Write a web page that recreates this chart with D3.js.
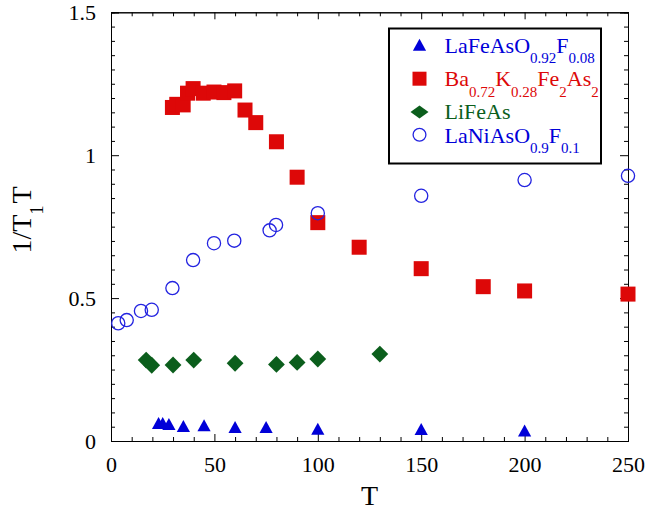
<!DOCTYPE html>
<html>
<head>
<meta charset="utf-8">
<script src="https://cdn.jsdelivr.net/npm/d3@7"></script>
<style>
  html, body { margin: 0; padding: 0; background: #fff; }
  svg { display: block; }
  text { font-family: "Liberation Serif", "Times New Roman", serif; }
</style>
</head>
<body>
<svg id="chart" width="648" height="513"></svg>
<script>
// ---- data ----
const triT = [23, 25, 28, 35, 45, 60, 75, 100, 150, 200];
const triV = [0.062, 0.062, 0.059, 0.052, 0.054, 0.048, 0.048, 0.042, 0.041, 0.036];

const sqT = [29.7, 31.8, 34.9, 37, 39.7, 44.6, 49.8, 54.6, 59.8, 64.8, 70, 80, 90, 100, 120, 150, 180, 200, 250];
const sqV = [1.167, 1.178, 1.176, 1.217, 1.233, 1.217, 1.221, 1.219, 1.225, 1.158, 1.114, 1.047, 0.923, 0.764, 0.678, 0.603, 0.540, 0.525, 0.514];

const diaT = [17, 19.7, 30, 40, 60, 80, 90, 100, 130];
const diaV = [0.283, 0.265, 0.266, 0.283, 0.272, 0.268, 0.275, 0.287, 0.304];

const cirT = [3.5, 7.6, 14.5, 19.7, 29.7, 39.7, 49.8, 59.6, 76.7, 79.8, 100, 150, 200, 250];
const cirV = [0.412, 0.423, 0.455, 0.459, 0.535, 0.633, 0.692, 0.701, 0.737, 0.756, 0.797, 0.858, 0.913, 0.928];

const xMajor = [0, 50, 100, 150, 200, 250];
const yMajor = [0, 0.5, 1, 1.5];
const xLabel = "T";

// ---- layout ----
const svg = d3.select("#chart");
const L = 111, R = 628, T = 12.3, B = 441;
const x = d3.scaleLinear().domain([0, 250]).range([L, R]);
const y = d3.scaleLinear().domain([0, 1.5]).range([B, T]);

const xMinor = d3.range(0, 251, 10).filter(v => v % 50 !== 0);
const yMinor = d3.range(0, 31).map(i => +(i * 0.05).toFixed(2)).filter(v => Math.abs(v * 2 - Math.round(v * 2)) > 1e-6);

const fmt = v => String(v);

function styleAxis(g) {
  g.selectAll("path.domain").attr("stroke", "#000").attr("stroke-width", 1);
  g.selectAll(".tick line").attr("stroke", "#000").attr("stroke-width", 1);
  g.selectAll("text").attr("font-family", "Liberation Serif, serif").attr("font-size", 22).attr("fill", "#000");
}

// bottom
svg.append("g").attr("transform", `translate(0,${B})`)
  .call(d3.axisBottom(x).tickValues(xMajor).tickSize(-7).tickPadding(15).tickFormat(fmt)).call(styleAxis);
svg.append("g").attr("transform", `translate(0,${B})`)
  .call(d3.axisBottom(x).tickValues(xMinor).tickSize(-4).tickFormat("")).call(styleAxis);
// top
svg.append("g").attr("transform", `translate(0,${T})`)
  .call(d3.axisTop(x).tickValues(xMajor).tickSize(-7).tickFormat("")).call(styleAxis);
svg.append("g").attr("transform", `translate(0,${T})`)
  .call(d3.axisTop(x).tickValues(xMinor).tickSize(-4).tickFormat("")).call(styleAxis);
// left
svg.append("g").attr("transform", `translate(${L},0)`)
  .call(d3.axisLeft(y).tickValues(yMajor).tickSize(-8).tickPadding(15).tickFormat(fmt)).call(styleAxis);
svg.append("g").attr("transform", `translate(${L},0)`)
  .call(d3.axisLeft(y).tickValues(yMinor).tickSize(-4).tickFormat("")).call(styleAxis);
// right
svg.append("g").attr("transform", `translate(${R},0)`)
  .call(d3.axisRight(y).tickValues(yMajor).tickSize(-8).tickFormat("")).call(styleAxis);
svg.append("g").attr("transform", `translate(${R},0)`)
  .call(d3.axisRight(y).tickValues(yMinor).tickSize(-4).tickFormat("")).call(styleAxis);

// ---- axis titles ----
svg.append("text").attr("x", (L + R) / 2).attr("y", 505).attr("text-anchor", "middle")
  .attr("font-size", 28).text(xLabel);

const yl = svg.append("text").attr("transform", "translate(31,220) rotate(-90)")
  .attr("text-anchor", "middle").attr("font-size", 28);
yl.append("tspan").text("1/T");
yl.append("tspan").attr("font-size", 18).attr("dy", 12).text("1");
yl.append("tspan").attr("dy", -12).attr("dx", 2).text("T");

// ---- markers ----
const colBlue = "#0000d8", colRed = "#dd0808", colGreen = "#0b5e1c", colCirc = "#2323e0";
const triPath = "M0,-6.2L6.6,5.8L-6.6,5.8Z";
const diaPath = "M0,-8.4L8.4,0L0,8.4L-8.4,0Z";

const tri = triT.map((t, i) => ({ t, v: triV[i] }));
const sq = sqT.map((t, i) => ({ t, v: sqV[i] }));
const dia = diaT.map((t, i) => ({ t, v: diaV[i] }));
const cir = cirT.map((t, i) => ({ t, v: cirV[i] }));

svg.append("g").selectAll("path").data(tri).join("path")
  .attr("d", triPath).attr("transform", d => `translate(${x(d.t)},${y(d.v)})`).attr("fill", colBlue);
svg.append("g").selectAll("rect").data(sq).join("rect")
  .attr("x", d => x(d.t) - 7.5).attr("y", d => y(d.v) - 7.5).attr("width", 15).attr("height", 15).attr("fill", colRed);
svg.append("g").selectAll("path").data(dia).join("path")
  .attr("d", diaPath).attr("transform", d => `translate(${x(d.t)},${y(d.v)})`).attr("fill", colGreen);
svg.append("g").selectAll("circle").data(cir).join("circle")
  .attr("cx", d => x(d.t)).attr("cy", d => y(d.v)).attr("r", 6.6)
  .attr("fill", "none").attr("stroke", colCirc).attr("stroke-width", 1.3);

// ---- legend ----
const lg = svg.append("g");
lg.append("rect").attr("x", 389).attr("y", 28.5).attr("width", 212).attr("height", 135)
  .attr("fill", "#fff").attr("stroke", "#000").attr("stroke-width", 2);
const sx = 419.5, tx = 444.5;

lg.append("path").attr("d", triPath).attr("transform", `translate(${sx},45)`).attr("fill", colBlue);
lg.append("rect").attr("x", sx - 7).attr("y", 71.7).attr("width", 14).attr("height", 14).attr("fill", colRed);
lg.append("path").attr("d", "M0,-6.5L9,0L0,6.5L-9,0Z").attr("transform", `translate(${sx},112)`).attr("fill", colGreen);
lg.append("circle").attr("cx", sx).attr("cy", 134.8).attr("r", 6.4).attr("fill", "none").attr("stroke", colCirc).attr("stroke-width", 1.3);

function legendText(yBase, parts, color) {
  const t = lg.append("text").attr("x", tx).attr("y", yBase).attr("font-size", 22).attr("fill", color);
  let sub = false;
  parts.forEach(p => {
    const isSub = p.sub;
    const ts = t.append("tspan").text(p.s);
    if (isSub && !sub) { ts.attr("dy", 10.7).attr("font-size", 15); }
    else if (isSub) { ts.attr("font-size", 15); }
    else if (!isSub && sub) { ts.attr("dy", -10.7); }
    sub = isSub;
  });
}
legendText(52.7, [{ s: "LaFeAsO" }, { s: "0.92", sub: true }, { s: "F" }, { s: "0.08", sub: true }], colBlue);
legendText(86, [{ s: "Ba" }, { s: "0.72", sub: true }, { s: "K" }, { s: "0.28", sub: true }, { s: "Fe" }, { s: "2", sub: true }, { s: "As" }, { s: "2", sub: true }], colRed);
legendText(118.5, [{ s: "LiFeAs" }], colGreen);
legendText(142.5, [{ s: "LaNiAsO" }, { s: "0.9", sub: true }, { s: "F" }, { s: "0.1", sub: true }], colBlue);
</script>
</body>
</html>
